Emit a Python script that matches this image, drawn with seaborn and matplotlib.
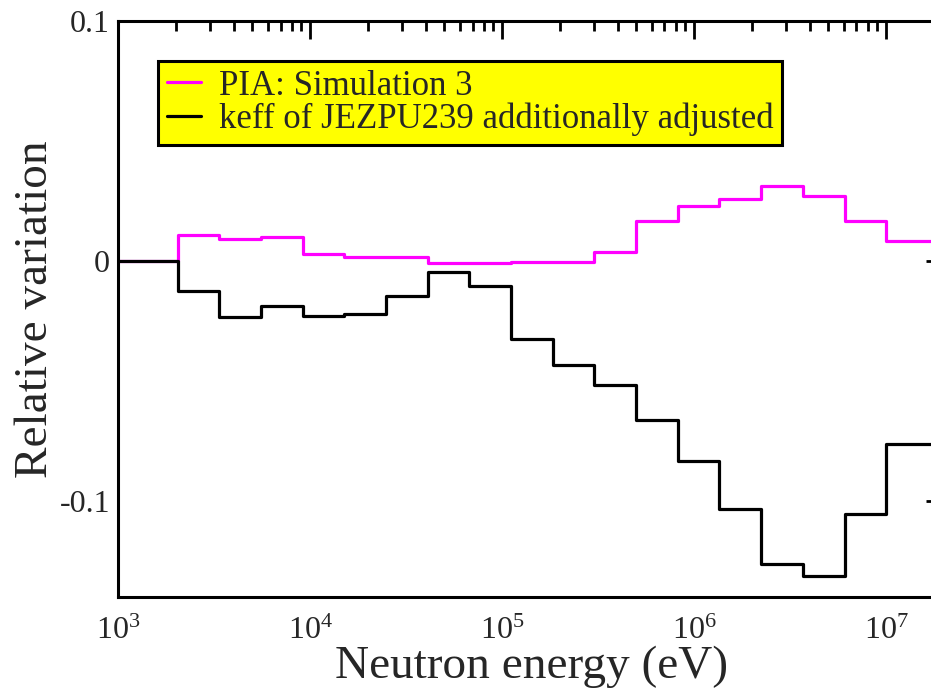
import numpy as np
import pandas as pd
import matplotlib
matplotlib.use("Agg")
import matplotlib.pyplot as plt
import seaborn as sns
from matplotlib.ticker import MultipleLocator, FixedLocator, FuncFormatter, LogLocator

# ---- data ----
edges = [1e3, 2.0347e3, 3.3546e3, 5.5308e3, 9.1188e3, 1.5034e4, 2.4788e4, 4.0868e4,
         6.7379e4, 1.1109e5, 1.8316e5, 3.0197e5, 4.9787e5, 8.2085e5, 1.3534e6,
         2.2313e6, 3.6788e6, 6.0653e6, 1.0e7, 2.0e7]
pia_sim3 = [0.0, 0.0107, 0.0090, 0.0100, 0.0028, 0.0017, 0.0017, -0.0011, -0.0011,
            -0.0007, -0.0007, 0.0037, 0.0164, 0.0229, 0.0257, 0.0313, 0.0268, 0.0167, 0.0083]
keff_adj = [0.0, -0.0125, -0.0233, -0.0188, -0.0229, -0.0222, -0.0146, -0.0049, -0.0104,
            -0.0326, -0.0435, -0.0518, -0.0665, -0.0833, -0.1035, -0.1264, -0.1313, -0.1056, -0.0761]
series_names = ["PIA: Simulation 3", "keff of JEZPU239 additionally adjusted"]
series_colors = ["#ff00ff", "#000000"]
y_major = [-0.1, 0.0, 0.1]

rows = []
for name, vals in zip(series_names, [pia_sim3, keff_adj]):
    vv = list(vals) + [vals[-1]]
    for e, v in zip(edges, vv):
        rows.append({"energy": e, "variation": v, "series": name})
df = pd.DataFrame(rows)

sns.set_style("white")
plt.rcParams["font.family"] = ["Liberation Serif", "DejaVu Serif"]
plt.rcParams["mathtext.fontset"] = "custom"
plt.rcParams["mathtext.rm"] = "Liberation Serif"
plt.rcParams["mathtext.it"] = "Liberation Serif:italic"
plt.rcParams["mathtext.bf"] = "Liberation Serif:bold"
plt.rcParams["axes.unicode_minus"] = False

fig = plt.figure(figsize=(9.31, 6.96), dpi=100)
ax = fig.add_axes([118.3 / 931, 1 - 597 / 696, (944 - 118.3) / 931, (597 - 20.5) / 696])

sns.lineplot(data=df, x="energy", y="variation", hue="series",
             palette=dict(zip(series_names, series_colors)),
             drawstyle="steps-post", estimator=None, sort=False,
             linewidth=2.3, ax=ax)

ax.set_xscale("log")
ax.set_xlim(1e3, 2e7)
ax.set_ylim(-0.14, 0.1)

ax.yaxis.set_major_locator(FixedLocator(y_major))
ax.yaxis.set_minor_locator(MultipleLocator(0.01))
ax.yaxis.set_major_formatter(FuncFormatter(lambda v, p: "%g" % round(v, 6)))
ax.xaxis.set_major_locator(LogLocator(base=10, numticks=20))
ax.xaxis.set_minor_locator(LogLocator(base=10, subs=np.arange(2, 10), numticks=100))

for s in ax.spines.values():
    s.set_linewidth(2.2)
    s.set_color("black")

ax.tick_params(which="both", direction="in", top=True, right=True, width=2.0, color="black")
ax.tick_params(which="major", length=13, labelsize=23)
ax.tick_params(which="minor", length=7)
ax.tick_params(axis="y", which="major", pad=6)
ax.tick_params(axis="x", which="major", pad=14)

ax.set_xlabel("Neutron energy (eV)", fontsize=34, labelpad=0)
ax.set_ylabel("Relative variation", fontsize=34, labelpad=2)

handles, labels = ax.get_legend_handles_labels()
leg = ax.legend(handles, labels, loc="upper left", bbox_to_anchor=(0.048, 0.93),
                borderaxespad=0, fontsize=25, frameon=True, fancybox=False,
                facecolor="#ffff00", edgecolor="black", framealpha=1,
                handlelength=1.0, handletextpad=0.5, labelspacing=0.0,
                borderpad=0.25)
leg.get_frame().set_linewidth(2.2)
for lh in leg.get_lines():
    lh.set_linewidth(2.3)

fig.savefig("out.png", dpi=100)
